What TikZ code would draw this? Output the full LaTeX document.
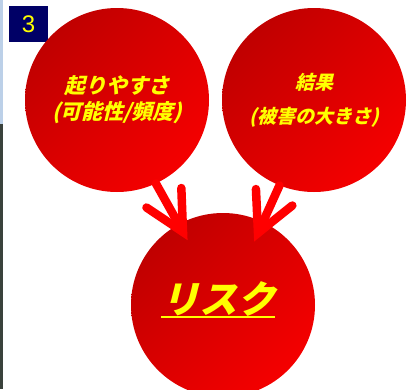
\documentclass[tikz,border=0pt]{standalone}
\usepackage{fontspec}
\usepackage{tikz}
\usetikzlibrary{calc,positioning,shadings}
\setsansfont{Liberation Sans}
\newfontfamily\jpfont[FakeSlant=0.25]{Noto Sans CJK JP}
\definecolor{navybox}{HTML}{000066}
\definecolor{darkred}{HTML}{B40000}
\definecolor{midred}{HTML}{DC0000}
\definecolor{brightred}{HTML}{FF0000}
\definecolor{txtyellow}{HTML}{FFFF00}
\definecolor{stripblue}{HTML}{BCD0E8}
\definecolor{stripdark}{HTML}{3A423C}
\tikzset{
  bubble/.style={circle, minimum size=184pt, inner sep=0pt, shade, upper left=darkred,
    upper right=midred, lower left=midred, lower right=brightred, text=txtyellow, align=center},
  riskarrow/.style={brightred, line width=8.5pt, line cap=round, line join=miter},
  numbox/.style={fill=navybox, minimum width=39pt, minimum height=36pt, inner sep=0pt,
    text=txtyellow, font=\sffamily\fontsize{24}{24}\selectfont}
}
\begin{document}
\begin{tikzpicture}[x=1pt,y=-1pt]
\useasboundingbox (0,0) rectangle (410,389);
\clip (0,0) rectangle (410,389);
\fill[stripblue] (0,0) rectangle (3,124);
\fill[stripdark] (0,124) rectangle (3,389);
\node[numbox] (num) at (28.5,24) {3};
\node[bubble, font=\jpfont\bfseries\fontsize{21}{26}\selectfont] (freq) at (117,100) {起りやすさ\\(可能性/頻度)};
\node[bubble, font=\jpfont\bfseries\fontsize{19}{34}\selectfont] (impact) at (314,100) {結果\\(被害の大きさ)};
\node[bubble] (risk) at (223,305) {};
\node[text=txtyellow, inner sep=0pt, font=\jpfont\bfseries\fontsize{38}{38}\selectfont] (risklbl) at (218,299) {リスク};
\draw[txtyellow, line width=2pt] ([yshift=-0.5pt]risklbl.south west) -- ([yshift=-0.5pt]risklbl.south east);
\coordinate (tipL) at (183,232);
\coordinate (tipR) at (258,233);
\draw[riskarrow] (freq.-65) -- (tipL);
\draw[riskarrow] ($(tipL)!44pt!27:(freq.-65)$) -- (tipL) -- ($(tipL)!44pt!-27:(freq.-65)$);
\draw[riskarrow] (impact.-112) -- (tipR);
\draw[riskarrow] ($(tipR)!44pt!27:(impact.-112)$) -- (tipR) -- ($(tipR)!44pt!-27:(impact.-112)$);
\end{tikzpicture}
\end{document}
